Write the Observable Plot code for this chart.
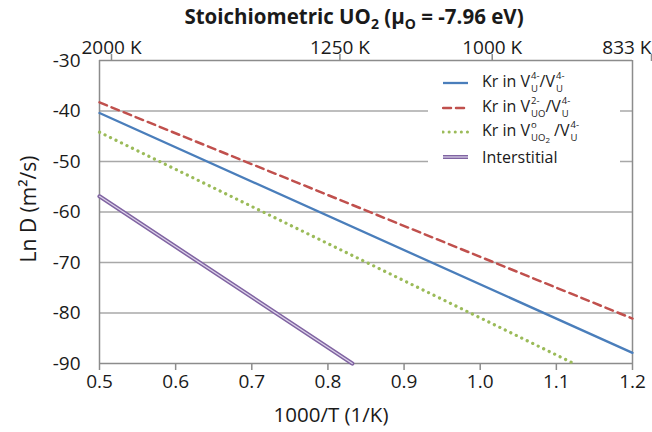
<!DOCTYPE html>
<html><head><meta charset="utf-8">
<script src="https://cdn.jsdelivr.net/npm/d3@7"></script>
<script src="https://cdn.jsdelivr.net/npm/@observablehq/plot@0.6"></script>
<style>
body{margin:0;overflow:hidden;background:#fff;font-family:"Open Sans",sans-serif;color:#1a1a1a;}
#wrap{position:relative;width:652px;height:432px;overflow:hidden;}
#title{position:absolute;left:354px;top:3px;transform:translateX(-50%);white-space:nowrap;font-weight:bold;font-size:20.5px;line-height:26px;}
#title sub{font-size:14px;vertical-align:-5px;line-height:0;}
#legend{position:absolute;left:428px;top:68px;width:192px;height:108px;background:#fff;}
.entry{position:absolute;left:0;height:24px;display:flex;align-items:center;font-size:16px;white-space:nowrap;}
.entry svg{height:10px;margin-left:14px;margin-right:13px;flex:none;}
.ss{display:inline-flex;flex-direction:column;font-size:9.5px;line-height:13px;vertical-align:middle;margin-left:1px;position:relative;top:-1px;}
.sb2{font-size:8px;position:relative;top:2px;}
</style></head>
<body>
<div id="wrap">
<div id="chart"></div>
<div id="title">Stoichiometric UO<sub>2</sub> (μ<sub>O</sub> = -7.96 eV)</div>
<div id="legend"></div>
</div>
<script>
// Data
const xStart = 0.5;
const xEnd = 1.2;
const vuVuX = [0.5, 1.2];
const vuVu = [-40.4, -87.9];
const vuoVuX = [0.5, 1.2];
const vuoVu = [-38.3, -81.1];
const vuo2VuX = [0.5, 1.123];
const vuo2Vu = [-44.2, -90];
const interstitialX = [0.5, 0.832];
const interstitial = [-56.9, -90];
const yTicks = [-30, -40, -50, -60, -70, -80, -90];
const xTicks = [0.5, 0.6, 0.7, 0.8, 0.9, 1.0, 1.1, 1.2];
const topTicks = [0.5, 0.8, 1.0];
const topLabels = ["2000 K", "1250 K", "1000 K"];
const topLastTick = [1.2];
const topLastLabel = "833 K";
const seriesNames = ["Kr in VU4-/VU4-", "Kr in VUO2-/VU4-", "Kr in VUO2o/VU4-", "Interstitial"];

const rows = (xs, ys, s) => xs.map((x, i) => ({x, y: ys[i], s}));
const blueData = rows(vuVuX, vuVu, seriesNames[0]);
const redData = rows(vuoVuX, vuoVu, seriesNames[1]);
const greenData = rows(vuo2VuX, vuo2Vu, seriesNames[2]);
const purpleData = rows(interstitialX, interstitial, seriesNames[3]);

const frameColor = "#8c8c8c";
const gridColor = "#a8a8a8";
const blue = "#4a7ebb", red = "#c0504d", green = "#9bbb59", purple = "#8064a2";
const ink = "#1a1a1a";

const chart = Plot.plot({
  width: 652, height: 432,
  marginLeft: 99, marginRight: 20, marginTop: 60, marginBottom: 69,
  style: {fontFamily: "'Open Sans', sans-serif", fontSize: "19px", color: ink, background: "transparent"},
  x: {domain: [xStart, xEnd]},
  y: {domain: [-90, -30]},
  marks: [
    Plot.ruleY(yTicks.slice(1, -1), {stroke: gridColor, strokeWidth: 1.3}),
    Plot.ruleY([-30, -90], {stroke: frameColor, strokeWidth: 1.5}),
    Plot.ruleX([xStart, xEnd], {stroke: frameColor, strokeWidth: 1.5}),
    Plot.axisY(yTicks, {tickSize: 0, tickPadding: 19, tickFormat: d => String(d), label: null, fill: ink}),
    Plot.axisX(xTicks, {anchor: "bottom", tickSize: 7, tickPadding: 4, stroke: frameColor, strokeWidth: 1.5, tickFormat: d => d.toFixed(1), label: null, fill: ink}),
    Plot.axisX(topTicks, {anchor: "top", tickSize: 7, tickPadding: 0, stroke: frameColor, strokeWidth: 1.5, tickFormat: (d, i) => topLabels[i], dx: 12, label: null, fill: ink}),
    Plot.axisX(topLastTick, {anchor: "top", tickSize: 7, tickPadding: 0, stroke: frameColor, strokeWidth: 1.5, tickFormat: () => topLastLabel, textAnchor: "end", dx: 19, label: null, fill: ink}),
    Plot.text(["1000/T (1/K)"], {frameAnchor: "bottom", textAnchor: "middle", lineAnchor: "middle", dx: -35, dy: 52, fontSize: 20.5, fill: ink}),
    Plot.text(["Ln D (m²/s)"], {frameAnchor: "left", textAnchor: "middle", lineAnchor: "middle", rotate: -90, dx: -70, dy: -3, fontSize: 21, fill: ink}),
    Plot.line(purpleData, {x: "x", y: "y", stroke: purple, strokeWidth: 4.2}),
    Plot.line(purpleData, {x: "x", y: "y", stroke: "#ddd4ea", strokeWidth: 1.2}),
    Plot.line(greenData, {x: "x", y: "y", stroke: green, strokeWidth: 3.2, strokeDasharray: "0.1 6", strokeLinecap: "round"}),
    Plot.line(blueData, {x: "x", y: "y", stroke: blue, strokeWidth: 2.3}),
    Plot.line(redData, {x: "x", y: "y", stroke: red, strokeWidth: 2.5, strokeDasharray: "8 5"})
  ]
});
document.getElementById("chart").appendChild(chart);

// Legend
const ss = (sup, sub) => `<span class="ss"><span>${sup}</span><span>${sub}</span></span>`;
const legendItems = [
  {html: `Kr in V${ss("4-", "U")}/V${ss("4-", "U")}`, stroke: blue, w: 2.3, dash: null},
  {html: `Kr in V${ss("2-", "UO")}/V${ss("4-", "U")}`, stroke: red, w: 2.5, dash: "8 5"},
  {html: `Kr in V${ss("o", "UO<span class='sb2'>2</span>")} /V${ss("4-", "U")}`, stroke: green, w: 3, dash: "0.1 6"},
  {html: `Interstitial`, stroke: purple, w: 4, dash: null, inner: true}
];
const leg = document.getElementById("legend");
legendItems.forEach((it, i) => {
  const e = document.createElement("div");
  e.className = "entry";
  e.style.top = (3 + i * 24.5) + "px";
  const dash = it.dash ? `stroke-dasharray="${it.dash}" stroke-linecap="round"` : "";
  const inner = it.inner ? `<line x1="1" y1="5" x2="26" y2="5" stroke="#ddd4ea" stroke-width="1.2"/>` : "";
  e.innerHTML = `<svg width="27" height="10" viewBox="0 0 27 10"><line x1="1" y1="5" x2="26" y2="5" stroke="${it.stroke}" stroke-width="${it.w}" ${dash}/>${inner}</svg><span>${it.html}</span>`;
  leg.appendChild(e);
});
</script>
</body></html>
